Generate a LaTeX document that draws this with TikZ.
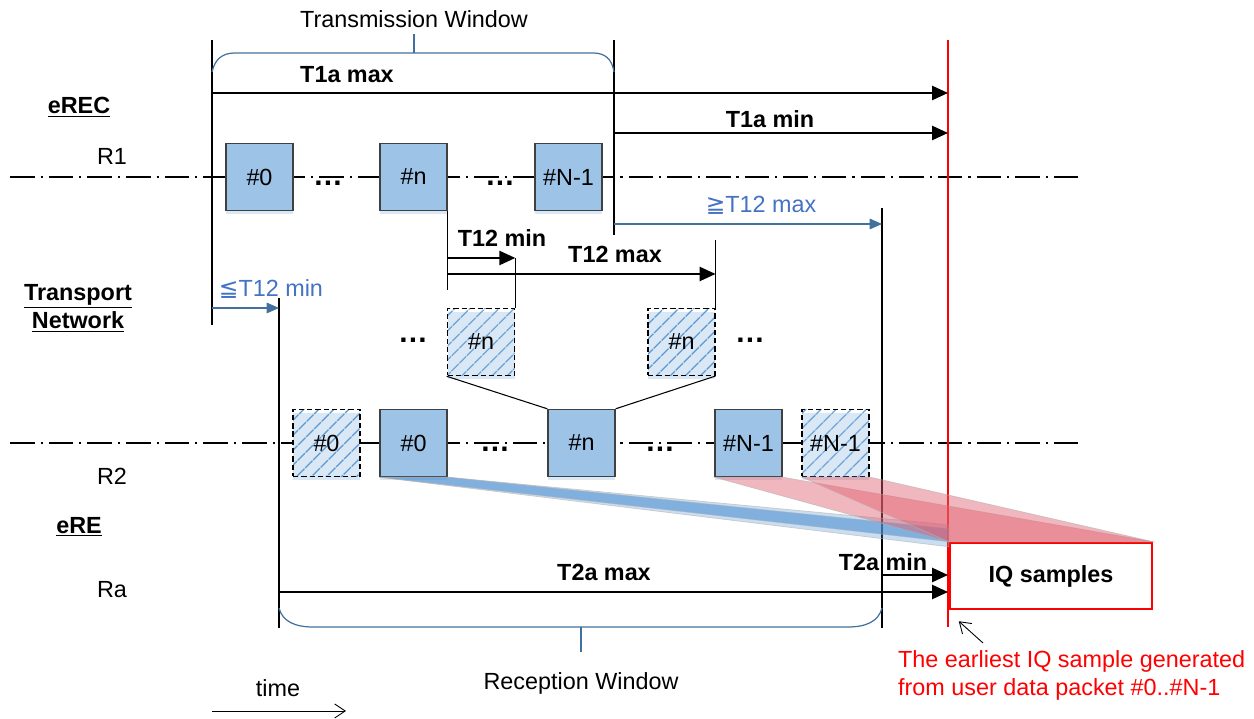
\documentclass[tikz,border=0pt]{standalone}
\usepackage{fontspec}
\setmainfont{Liberation Sans}
\newfontfamily\symfont{DejaVu Sans}
\usepackage{tikz}
\usetikzlibrary{arrows.meta, patterns.meta, shadows, positioning}

\definecolor{pktblue}{RGB}{157,195,230}
\definecolor{pktedge}{RGB}{64,64,64}
\definecolor{pktshade}{RGB}{218,231,245}
\definecolor{hatchblue}{RGB}{91,155,213}
\definecolor{arrowblue}{RGB}{65,113,156}
\definecolor{txtblue}{RGB}{68,114,196}
\definecolor{fanbluecol}{RGB}{80,145,210}
\definecolor{fanredcol}{RGB}{225,95,110}

\begin{document}
\begin{tikzpicture}[
    every node/.style={font=\fontsize{13.3}{16}\selectfont},
    pkt/.style={rectangle, draw=pktedge, line width=0.8pt, fill=pktblue,
                minimum size=1.34cm, inner sep=0pt,
                drop shadow={shadow xshift=0pt, shadow yshift=-2pt, fill=pktshade, opacity=1}},
    ghost/.style={rectangle, draw, dashed, dash pattern=on 3pt off 1.7pt, line width=0.6pt,
                  pattern={Lines[angle=45, distance=6.5pt, line width=0.9pt]},
                  pattern color=hatchblue, minimum size=1.34cm, inner sep=0pt,
                  drop shadow={shadow xshift=0pt, shadow yshift=-2pt, fill=pktshade, opacity=1}},
    meas/.style={line width=1.1pt, -{Triangle[length=9pt, width=8pt]}},
    hint/.style={line width=0.7pt, draw=arrowblue, -{Triangle[length=7pt, width=6pt]}},
    guide/.style={line width=0.6pt},
    refline/.style={line width=1.3pt, dash pattern=on 14pt off 3.4pt on 1.2pt off 3.4pt},
    brc/.style={draw=arrowblue, line width=0.7pt},
    lbl/.style={font=\fontsize{13.3}{16}\selectfont\bfseries},
    ellip/.style={font=\fontsize{17}{20}\selectfont\bfseries},
    fanb/.style={fill=fanbluecol, fill opacity=0.6, draw=gray!60, draw opacity=0.6, line width=0.4pt},
    fanr/.style={fill=fanredcol, fill opacity=0.45, draw=gray!60, draw opacity=0.6, line width=0.4pt}
]
    \useasboundingbox (0,0) rectangle (25.08,14.38);

    % --- Reference planes R1 / R2 ---
    \draw[refline] (0.2,10.84) -- (21.64,10.84);
    \draw[refline] (0.2,5.52)  -- (21.64,5.52);

    % --- Window edges ---
    \coordinate (txL) at (4.24,13.58);
    \coordinate (txR) at (12.28,13.58);
    \coordinate (rxL) at (5.58,8.42);
    \coordinate (rxR) at (17.64,10.22);
    \coordinate (iqT) at (18.96,13.58);
    \draw[guide] (txL) -- ++(0,-5.70);
    \draw[guide] (txR) -- ++(0,-3.90);
    \draw[guide] (rxL) -- ++(0,-6.60);
    \draw[guide] (rxR) -- ++(0,-8.40);
    \draw[red, line width=1.2pt] (iqT) -- ++(0,-11.74);

    % --- Side labels ---
    \node (erec) at (1.58,12.24) {\underline{\textbf{eREC}}};
    \node (r1)   at (2.24,11.26) {R1};
    \node[align=center] (tn) at (1.56,8.22) {\underline{\textbf{Transport}}\\\underline{\textbf{Network}}};
    \node (r2)   at (2.24,4.86) {R2};
    \node (ere)  at (1.58,3.84) {\underline{\textbf{eRE}}};
    \node (ra)   at (2.24,2.58) {Ra};

    % --- Packets at R1 ---
    \node[pkt] (a0) at (5.19,10.84)  {\#0};
    \node[pkt] (an) at (8.27,10.84)  {\#n};
    \node[pkt] (aN) at (11.37,10.84) {\#N-1};
    \node[ellip] (d1) at (6.56,10.72) {…};
    \node[ellip] (d2) at (10.0,10.72) {…};

    % --- Packets in transport network ---
    \node[ghost] (hn1) at (9.62,7.54)  {\#n};
    \node[ghost] (hn2) at (13.63,7.54) {\#n};
    \node[ellip] (d3) at (8.26,7.58) {…};
    \node[ellip] (d4) at (15.0,7.58) {…};

    % --- Packets at R2 ---
    \node[ghost] (g0) at (6.53,5.52)  {\#0};
    \node[pkt]   (b0) at (8.27,5.52)  {\#0};
    \node[pkt]   (bn) at (11.63,5.52) {\#n};
    \node[pkt]   (bN) at (14.97,5.52) {\#N-1};
    \node[ghost] (gN) at (16.71,5.52) {\#N-1};
    \node[ellip] (d5) at (9.9,5.40)  {…};
    \node[ellip] (d6) at (13.2,5.40) {…};

    \draw[guide] (hn1.south west) -- (bn.north west);
    \draw[guide] (hn2.south east) -- (bn.north east);

    % --- IQ samples ---
    \node[draw=red, line width=1.4pt, minimum width=4.04cm, minimum height=1.32cm,
          lbl] (iq) at (21.02,2.86) {IQ samples};

    % --- Fans into IQ samples ---
    \fill[fanb, fill opacity=0.3] (b0.south west) -- (b0.south east) -- ([yshift=0.34cm]iq.north west) -- ([yshift=-0.1cm]iq.north west) -- cycle;
    \fill[fanb] (b0.south west) -- (b0.south east) -- ([yshift=0.26cm]iq.north west) -- (iq.north west) -- cycle;
    \fill[fanr] (bN.south west) -- (bN.south east) -- (iq.north east) -- (iq.north west) -- cycle;
    \fill[fanr] (gN.south west) -- (gN.south east) -- (iq.north east) -- (iq.north west) -- cycle;

    % --- Transmission window ---
    \node (txw) at (8.28,14.0) {Transmission Window};
    \draw[brc] (4.24,12.94) .. controls (4.30,13.20) and (4.45,13.32) .. (4.70,13.32)
               -- (11.86,13.32) .. controls (12.10,13.32) and (12.24,13.20) .. (12.28,12.94);
    \draw[brc] (8.28,13.32) -- (txw.south);

    % --- T1a ---
    \draw[meas] (txL |- 0,12.52) -- (iqT |- 0,12.52);
    \node[lbl] (t1amax) at (6.94,12.88) {T1a max};
    \draw[meas] (txR |- 0,11.72) -- (iqT |- 0,11.72);
    \node[lbl] (t1amin) at (15.4,12.0) {T1a min};

    % --- T12 ---
    \draw[hint] (txR |- 0,9.90) -- (rxR |- 0,9.90);
    \node[text=txtblue] (t12ge) at (15.22,10.28) {{\symfont ≧}T12 max};
    \draw[guide] (an.south east) -- (an.south east |- 0,8.58);
    \draw[guide] (hn1.north east) -- (hn1.north east |- 0,9.22);
    \draw[guide] (hn2.north east) -- (hn2.north east |- 0,9.58);
    \draw[meas] (an.south east |- 0,9.22) -- (hn1.north east |- 0,9.22);
    \node[lbl] (t12min) at (10.04,9.62) {T12 min};
    \draw[meas] (an.south east |- 0,8.90) -- (hn2.north east |- 0,8.90);
    \node[lbl] (t12max) at (12.3,9.30) {T12 max};
    \draw[hint] (txL |- 0,8.22) -- (rxL |- 0,8.22);
    \node[text=txtblue] (t12le) at (5.42,8.60) {{\symfont ≦}T12 min};

    % --- T2a ---
    \draw[meas] (rxL |- 0,2.54) -- (iqT |- 0,2.54);
    \node[lbl] (t2amax) at (12.08,2.94) {T2a max};
    \draw[meas] (rxR |- 0,2.88) -- (iqT |- 0,2.88);
    \node[lbl] (t2amin) at (17.66,3.14) {T2a min};

    % --- Reception window ---
    \node (rxw) at (11.62,0.72) {Reception Window};
    \draw[brc] (5.58,2.22) .. controls (5.65,1.95) and (5.90,1.84) .. (6.26,1.84)
               -- (16.96,1.84) .. controls (17.32,1.84) and (17.57,1.95) .. (17.64,2.22);
    \draw[brc] (11.62,1.84) -- (11.62,1.34);

    % --- Time axis ---
    \coordinate (t0) at (4.24,0.16);
    \draw[line width=0.5pt, -{Straight Barb[length=6pt, width=8pt]}] (t0) -- ++(2.68,0);
    \node (time) at (5.56,0.62) {time};

    % --- Note ---
    \node[text=red, align=left, anchor=west] (note) at (17.84,0.87)
         {The earliest IQ sample generated\\from user data packet \#0..\#N-1};
    \coordinate (ntail) at (19.66,1.52);
    \draw[line width=0.5pt, -{Straight Barb[length=6pt, width=8pt]}] (ntail) -- ([shift={(0.2,-0.22)}]iq.south west);
\end{tikzpicture}
\end{document}
